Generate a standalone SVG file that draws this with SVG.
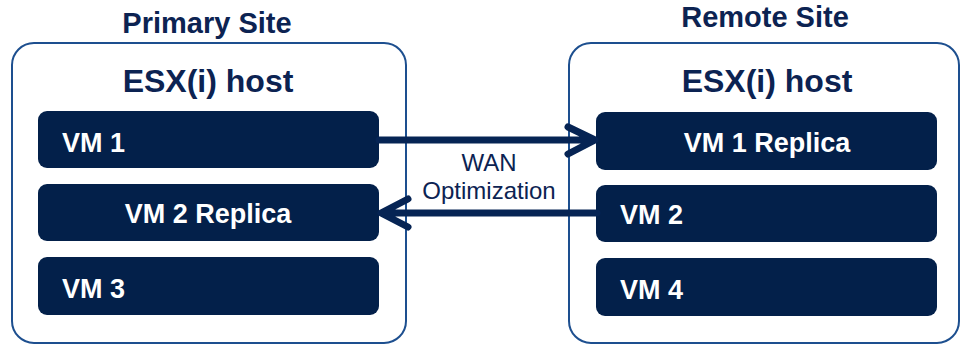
<svg xmlns="http://www.w3.org/2000/svg" width="961" height="344" viewBox="0 0 961 344">
  <style>
    .title { font-family: "Liberation Sans", Arial, sans-serif; font-weight: bold; font-size: 29px; fill: #0c2352; }
    .host { fill: #ffffff; stroke: #1d4f8f; stroke-width: 2; }
    .hosttxt { font-family: "Liberation Sans", Arial, sans-serif; font-weight: bold; font-size: 32px; fill: #0c2352; }
    .vm { fill: #03204a; }
    .vmtxt { font-family: "Liberation Sans", Arial, sans-serif; font-weight: bold; font-size: 27px; fill: #ffffff; }
    .conn { fill: none; stroke: #062454; stroke-width: 7; stroke-linecap: round; stroke-linejoin: round; }
    .lbl { font-family: "Liberation Sans", Arial, sans-serif; font-size: 24px; fill: #0c2352; }
  </style>
  <g id="primary-site">
    <text class="title" x="207" y="33" text-anchor="middle">Primary Site</text>
    <rect class="host" x="12" y="43" width="394" height="300" rx="22"/>
    <text class="hosttxt" x="208" y="92" text-anchor="middle">ESX(i) host</text>
  </g>
  <g id="remote-site">
    <text class="title" x="765" y="27" text-anchor="middle">Remote Site</text>
    <rect class="host" x="569" y="43" width="390" height="300" rx="22"/>
    <text class="hosttxt" x="767" y="92" text-anchor="middle">ESX(i) host</text>
  </g>
  <g id="vm1">
    <rect class="vm" x="38" y="111" width="341" height="57" rx="9"/>
    <text class="vmtxt" x="62" y="152">VM 1</text>
  </g>
  <g id="vm2-replica">
    <rect class="vm" x="38" y="184" width="341" height="57" rx="9"/>
    <text class="vmtxt" x="208" y="223" text-anchor="middle">VM 2 Replica</text>
  </g>
  <g id="vm3">
    <rect class="vm" x="38" y="257" width="341" height="58" rx="9"/>
    <text class="vmtxt" x="62" y="298">VM 3</text>
  </g>
  <g id="vm1-replica">
    <rect class="vm" x="596" y="112" width="341" height="58" rx="9"/>
    <text class="vmtxt" x="767" y="152" text-anchor="middle">VM 1 Replica</text>
  </g>
  <g id="vm2">
    <rect class="vm" x="596" y="185" width="341" height="57" rx="9"/>
    <text class="vmtxt" x="620" y="224">VM 2</text>
  </g>
  <g id="vm4">
    <rect class="vm" x="596" y="258" width="341" height="58" rx="9"/>
    <text class="vmtxt" x="620" y="299">VM 4</text>
  </g>
  <g id="connectors">
    <path class="conn" d="M379 140 H594 M568 127 L595 140 L568 154"/>
    <path class="conn" d="M597 213 H382 M408 199 L381 213 L408 227"/>
    <text class="lbl" x="489" y="171" text-anchor="middle">WAN</text>
    <text class="lbl" x="489" y="199" text-anchor="middle">Optimization</text>
  </g>
</svg>
